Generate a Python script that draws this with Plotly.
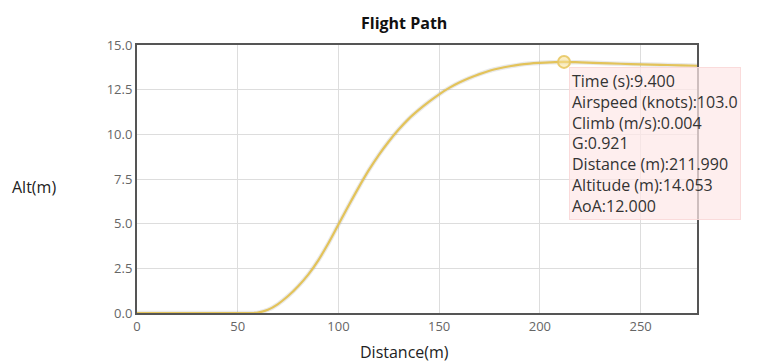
import plotly.graph_objects as go

# Data
distance = [0, 10, 20, 30, 40, 50, 55, 58, 60, 65, 70, 75, 80, 85, 90, 95, 100, 105, 110, 115, 120,
            125, 130, 135, 140, 145, 150, 155, 160, 165, 170, 175, 180, 185, 190, 195, 200,
            205, 211.99, 220, 230, 240, 250, 260, 270, 278]
altitude = [0, 0, 0, 0, 0, 0, 0, 0, 0.02, 0.18, 0.5, 0.95, 1.5, 2.15, 2.95, 3.9, 4.95, 6.0, 7.02, 7.98, 8.84,
            9.6, 10.28, 10.88, 11.38, 11.83, 12.24, 12.6, 12.9, 13.15, 13.37, 13.56, 13.7, 13.81, 13.9, 13.96, 14.0,
            14.03, 14.053, 14.03, 13.99, 13.95, 13.92, 13.89, 13.86, 13.84]

hover_x = 211.99
hover_y = 14.053
tooltip_labels = ["Time (s)", "Airspeed (knots)", "Climb (m/s)", "G", "Distance (m)", "Altitude (m)", "AoA"]
tooltip_values = ["9.400", "103.0", "0.004", "0.921", "211.990", "14.053", "12.000"]

x_ticks = [0, 50, 100, 150, 200, 250]
y_ticks = [0, 2.5, 5, 7.5, 10, 12.5, 15]

FONT = "Open Sans"
W, H = 760, 364
OFF = 8  # page body offset
# target plot box in window pixels: left 137, right 697, top 45, bottom 313
L = 137 - OFF
R = W - (697 - OFF)
T = 45 - OFF
B = H - (313 - OFF)

fig = go.Figure()
fig.add_trace(go.Scatter(x=distance, y=altitude, mode="lines",
                         line=dict(color="rgba(120,120,120,0.16)", width=4.5, shape="spline"),
                         hoverinfo="skip", showlegend=False))
fig.add_trace(go.Scatter(x=distance, y=altitude, mode="lines",
                         line=dict(color="#e3c35a", width=2.2, shape="spline"),
                         hoverinfo="skip", showlegend=False))
fig.add_trace(go.Scatter(x=[hover_x], y=[hover_y], mode="markers",
                         marker=dict(size=12, color="rgba(250,225,150,0.55)",
                                     line=dict(color="rgba(232,200,100,0.9)", width=2)),
                         hoverinfo="skip", showlegend=False, cliponaxis=False))

tip_text = "<br>".join(f"{a}:{b}" for a, b in zip(tooltip_labels, tooltip_values))

pw = W - L - R
ph = H - T - B


def px_x(p):
    return (p - OFF - L) / pw


def px_y(p):
    return (H - B - (p - OFF)) / ph


annotations = [
    dict(text="<b>Flight Path</b>", x=px_x(404), y=px_y(23), xref="paper", yref="paper", showarrow=False,
         xanchor="center", yanchor="middle", font=dict(family=FONT, size=16, color="#111")),
    dict(text="Alt(m)", x=px_x(34), y=px_y(187), xref="paper", yref="paper", showarrow=False,
         xanchor="center", yanchor="middle", font=dict(family=FONT, size=16, color="#222")),
    dict(text="Distance(m)", x=px_x(404), y=px_y(352), xref="paper", yref="paper", showarrow=False,
         xanchor="center", yanchor="middle", font=dict(family=FONT, size=16, color="#222")),
    dict(text=tip_text, x=px_x(569), y=px_y(67), xref="paper", yref="paper", xanchor="left", yanchor="top",
         showarrow=False, align="left", bgcolor="rgba(253,232,232,0.72)", bordercolor="rgba(250,215,215,0.9)",
         borderwidth=1, borderpad=2, font=dict(family=FONT, size=16, color="#333")),
]

fig.update_layout(
    width=W, height=H,
    margin=dict(l=L, r=R, t=T, b=B),
    paper_bgcolor="white", plot_bgcolor="white",
    annotations=annotations,
    xaxis=dict(range=[0, 278], tickvals=x_ticks, ticktext=[str(v) for v in x_ticks],
               showgrid=True, gridcolor="#dddddd", gridwidth=1, zeroline=False,
               showline=True, linecolor="#555555", linewidth=2, mirror=True,
               ticks="", tickfont=dict(family=FONT, size=13, color="#666")),
    yaxis=dict(range=[0, 15], tickvals=y_ticks, ticktext=[f"{v:.1f}" for v in y_ticks],
               showgrid=True, gridcolor="#dddddd", gridwidth=1, zeroline=False,
               showline=True, linecolor="#555555", linewidth=2, mirror=True,
               ticks="", tickfont=dict(family=FONT, size=13, color="#666")),
)

fig.write_html("out.html")
